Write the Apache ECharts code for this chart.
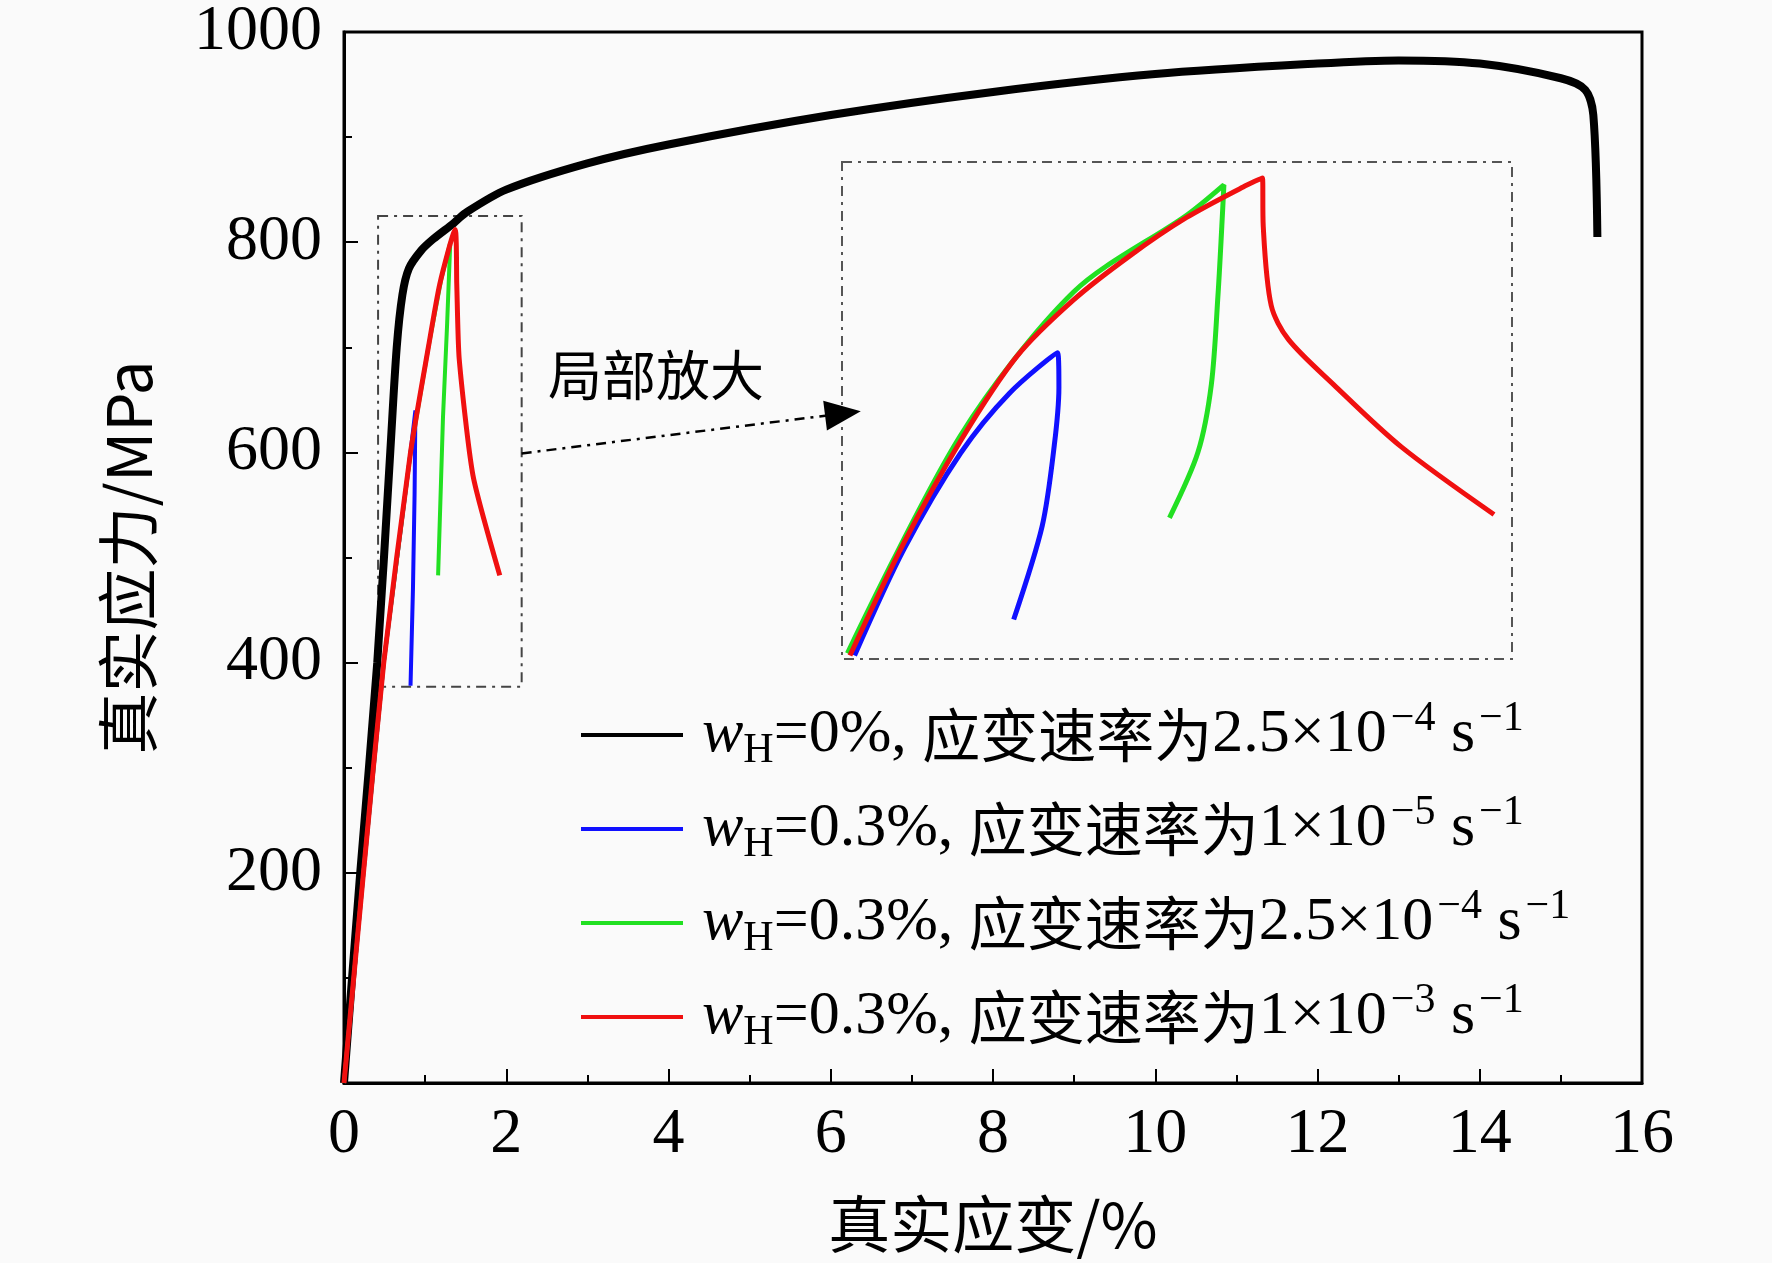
<!DOCTYPE html>
<html><head><meta charset="utf-8">
<script src="https://cdn.jsdelivr.net/npm/echarts@6/dist/echarts.min.js"></script>
<style>html,body{margin:0;padding:0;background:#fafafa}#c{width:1772px;height:1263px}</style>
</head><body><div id="c"></div>
<script>
const xTicks = [0,2,4,6,8,10,12,14,16];
const yTicks = [200,400,600,800,1000];
const names = ['w0','b','g','r'];
const black = [[0,0],[0.2,200],[0.41,400],[0.57,600],[0.65,700],[0.72,750],[0.8,775],[0.95,792],[1.1,803],[1.35,818],[1.5,828],[2,850],[3,875],[4,893],[6,921],[8,943],[10,960],[12,970],[13,973],[14,970],[15,956],[15.3,945],[15.4,921],[15.45,805]];
const blue = [[0,0],[0.24,200],[0.49,400],[0.82,600],[0.88,640],[0.87,560],[0.85,470],[0.82,378]];
const green = [[0,0],[0.24,200],[0.49,400],[0.82,600],[1.04,700],[1.2,765],[1.31,800],[1.27,720],[1.22,633],[1.16,483]];
const red = [[0,0],[0.24,200],[0.49,400],[0.82,600],[1.04,700],[1.18,760],[1.37,812],[1.39,760],[1.42,689],[1.59,578],[1.92,483]];
const iBlue = [[0.43,403],[0.548,495],[0.683,578],[0.8,630],[0.915,665],[0.918,635],[0.907,585],[0.878,515],[0.81,434.2]];
const iGreen = [[0.413,404.9],[0.683,593.4],[0.953,717.5],[1.223,784],[1.312,810.3],[1.307,774.2],[1.298,715.6],[1.282,637.4],[1.25,578.8],[1.182,522.1]];
const iRed = [[0.419,403],[0.548,500.6],[0.683,588.6],[0.818,662],[0.953,710.7],[1.088,749],[1.223,782],[1.358,808.4],[1.404,816.2],[1.406,774],[1.425,705.8],[1.466,676.5],[1.574,637.4],[1.735,583.7],[1.957,525]];
const legendText = {
 w0:'{i|w}{sub|H}{t|=0%, }{c|应变速率为}{t|2.5×10}{sup|−4}{t| s}{sup|−1}',
 b:'{i|w}{sub|H}{t|=0.3%, }{c|应变速率为}{t|1×10}{sup|−5}{t| s}{sup|−1}',
 g:'{i|w}{sub|H}{t|=0.3%, }{c|应变速率为}{t|2.5×10}{sup|−4}{t| s}{sup|−1}',
 r:'{i|w}{sub|H}{t|=0.3%, }{c|应变速率为}{t|1×10}{sup|−3}{t| s}{sup|−1}'
};
const serif = 'Liberation Serif';
const cjk = 'Noto Sans CJK SC';
const chart = echarts.init(document.getElementById('c'));
const axLab = {color:'#000',fontFamily:serif,fontSize:64};
chart.setOption({
 backgroundColor:'#fafafa',
 animation:false,
 grid:[{left:344,right:130,top:31,bottom:180,show:true,borderColor:'#000',borderWidth:3,backgroundColor:'transparent'},
       {left:842,top:162,width:670,height:497,show:true,borderColor:'#555',borderWidth:2,borderType:[10,6,3,6],backgroundColor:'transparent'}],
 xAxis:[{type:'value',min:0,max:16,interval:2,gridIndex:0,
   axisLine:{lineStyle:{color:'#000',width:3}},
   axisTick:{inside:true,length:14,lineStyle:{width:2,color:'#000'}},
   minorTick:{show:true,splitNumber:2,length:8,lineStyle:{color:'#000',width:2}},
   splitLine:{show:false},axisLabel:Object.assign({margin:20,formatter:v=>xTicks.includes(v)?String(v):''},axLab),
   name:'真实应变/%',nameLocation:'middle',nameGap:110,nameTextStyle:{fontFamily:cjk,fontSize:62,color:'#000'}},
  {type:'value',min:0.4,max:2.0,gridIndex:1,show:false}],
 yAxis:[{type:'value',min:0,max:1000,interval:200,gridIndex:0,
   axisLine:{lineStyle:{color:'#000',width:3}},
   axisTick:{inside:true,length:14,lineStyle:{width:2,color:'#000'}},
   minorTick:{show:true,splitNumber:2,length:8,lineStyle:{color:'#000',width:2}},
   splitLine:{show:false},axisLabel:Object.assign({margin:22,formatter:v=>yTicks.includes(v)?String(v):''},axLab),
   name:'真实应力/MPa',nameLocation:'middle',nameGap:185,nameTextStyle:{fontFamily:cjk,fontSize:62,color:'#000'}},
  {type:'value',min:400,max:830,gridIndex:1,show:false}],
 legend:{orient:'vertical',left:576,top:693,itemWidth:102,itemHeight:4,itemGap:20,
   data:names,icon:'rect',
   formatter:n=>legendText[n],
   textStyle:{color:'#000',fontSize:62,fontFamily:serif,padding:[0,0,0,14],
     rich:{i:{fontFamily:serif,fontStyle:'italic',fontSize:62,color:'#000'},
           sub:{fontFamily:serif,fontSize:42,color:'#000',padding:[32,0,0,0]},
           sup:{fontFamily:serif,fontSize:42,color:'#000',padding:[0,0,32,4]},
           t:{fontFamily:serif,fontSize:62,color:'#000'},
           c:{fontFamily:cjk,fontSize:58,color:'#000'}}}},
 series:[
  {name:'w0',type:'line',data:black,symbol:'none',smooth:0.3,lineStyle:{color:'#000',width:8},itemStyle:{color:'#000'},z:3,
   markArea:{silent:true,itemStyle:{color:'transparent',borderColor:'#444',borderWidth:2,borderType:[10,6,3,6]},data:[[{coord:[0.42,825]},{coord:[2.19,377]}]]},
   markLine:{silent:true,symbol:['none','triangle'],symbolSize:[30,36],label:{show:false},
     lineStyle:{color:'#000',width:2.5,type:[10,6,3,6]},data:[[{coord:[2.19,599]},{coord:[6.15,637]}]]}},
  {name:'b',type:'line',data:blue,symbol:'none',lineStyle:{color:'#1010ff',width:4},itemStyle:{color:'#1010ff'},z:4},
  {name:'g',type:'line',data:green,symbol:'none',lineStyle:{color:'#22e022',width:4},itemStyle:{color:'#22e022'},z:5},
  {name:'r',type:'line',data:red,symbol:'none',smooth:0.2,lineStyle:{color:'#f01010',width:5},itemStyle:{color:'#f01010'},z:6},
  {name:'b',type:'line',xAxisIndex:1,yAxisIndex:1,data:iBlue,symbol:'none',smooth:0.3,lineStyle:{color:'#1010ff',width:5}},
  {name:'g',type:'line',xAxisIndex:1,yAxisIndex:1,data:iGreen,symbol:'none',smooth:0.3,lineStyle:{color:'#22e022',width:5}},
  {name:'r',type:'line',xAxisIndex:1,yAxisIndex:1,data:iRed,symbol:'none',smooth:0.3,lineStyle:{color:'#f01010',width:5}}
 ],
 graphic:[{type:'text',left:548,top:348,style:{text:'局部放大',font:'54px "Noto Sans CJK SC"',fill:'#000'}}]
});
</script></body></html>
